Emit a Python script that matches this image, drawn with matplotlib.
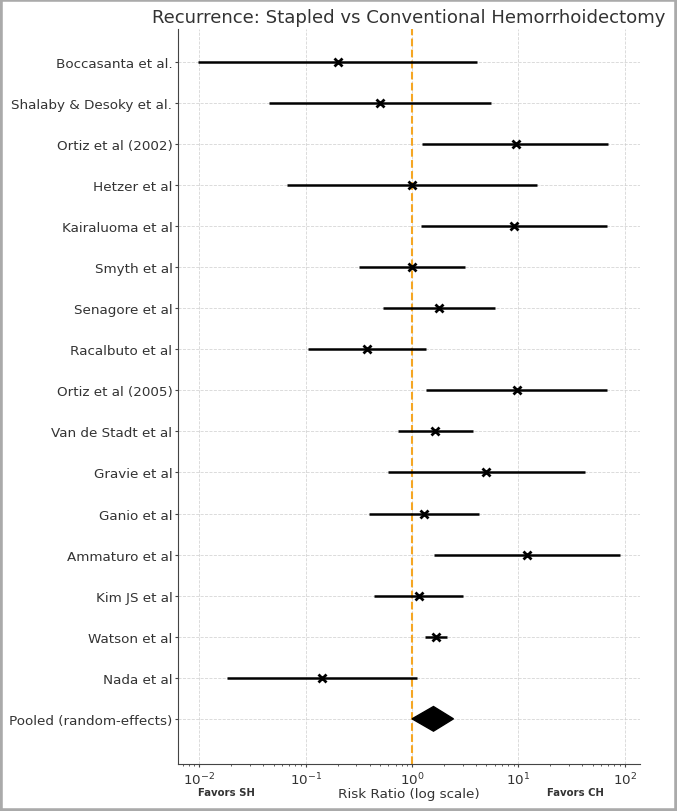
import matplotlib
matplotlib.use("Agg")
import matplotlib.pyplot as plt
from matplotlib.patches import Polygon, Rectangle

studies = [
    "Boccasanta et al.", "Shalaby & Desoky et al.", "Ortiz et al (2002)",
    "Hetzer et al", "Kairaluoma et al", "Smyth et al", "Senagore et al",
    "Racalbuto et al", "Ortiz et al (2005)", "Van de Stadt et al",
    "Gravie et al", "Ganio et al", "Ammaturo et al", "Kim JS et al",
    "Watson et al", "Nada et al",
]
rr = [0.20, 0.50, 9.5, 1.0, 9.1, 1.0, 1.81, 0.377, 9.7, 1.66, 5.0, 1.30, 12.1, 1.15, 1.67, 0.142]
ci_low = [0.0097, 0.045, 1.25, 0.066, 1.21, 0.317, 0.537, 0.104, 1.36, 0.738, 0.59, 0.391, 1.61, 0.435, 1.31, 0.0182]
ci_high = [4.07, 5.5, 70.2, 15.0, 67.7, 3.16, 5.97, 1.35, 68.2, 3.78, 42.3, 4.28, 89.7, 3.0, 2.12, 1.12]
pooled_label = "Pooled (random-effects)"
pooled_rr = 1.59
pooled_low = 1.0
pooled_high = 2.45

text_color = "#333333"

fig = plt.figure(figsize=(6.77, 8.12), dpi=100)
ax = fig.add_axes([178 / 677, 1 - 765 / 812, (640 - 178) / 677, (765 - 30) / 812])

ys = list(range(len(studies)))
ax.hlines(ys, ci_low, ci_high, color="black", lw=1.8, zorder=3)
ax.plot(rr, ys, linestyle="none", marker="x", color="black", ms=5.5, mew=2, zorder=4)

py = len(studies)
h = 0.3
diamond = Polygon([(pooled_low, py), (pooled_rr, py - h), (pooled_high, py), (pooled_rr, py + h)],
                  closed=True, facecolor="black", edgecolor="black", zorder=4)
ax.add_patch(diamond)

ax.set_xscale("log")
ax.set_xlim(6.3e-3, 139)
ax.set_ylim(17.1, -0.8)
ax.axvline(1.0, color="#f5a623", linestyle="--", lw=1.5, zorder=2)

ax.set_yticks(ys + [py])
ax.set_yticklabels(studies + [pooled_label], fontsize=9.7, color=text_color)
ax.tick_params(axis="y", length=2.5, pad=1.5, color="#444444")
ax.tick_params(axis="x", which="major", length=2.5, pad=2, labelsize=9.7,
               labelcolor=text_color, color="#444444")
ax.tick_params(axis="x", which="minor", length=1.5, color="#444444")
ax.grid(True, which="major", linestyle="--", color="#cccccc", lw=0.6, alpha=0.8)
ax.set_axisbelow(True)

for s in ["top", "right"]:
    ax.spines[s].set_visible(False)
for s in ["left", "bottom"]:
    ax.spines[s].set_color("#444444")

ax.set_title("Recurrence: Stapled vs Conventional Hemorrhoidectomy", fontsize=13.1, color=text_color, pad=5)
ax.set_xlabel("Risk Ratio (log scale)", fontsize=9.7, color=text_color, va="center")
ax.xaxis.set_label_coords(0.5, -0.040)
ax.text(0.105, -0.038, "Favors SH", transform=ax.transAxes, ha="center", va="center",
        fontsize=7.3, fontweight="bold", color=text_color)
ax.text(0.861, -0.038, "Favors CH", transform=ax.transAxes, ha="center", va="center",
        fontsize=7.3, fontweight="bold", color=text_color)

fig.patches.append(Rectangle((0, 0), 1, 1, transform=fig.transFigure, fill=False,
                             edgecolor="#aaaaaa", lw=4, zorder=10))

fig.savefig("out.png", dpi=100)
